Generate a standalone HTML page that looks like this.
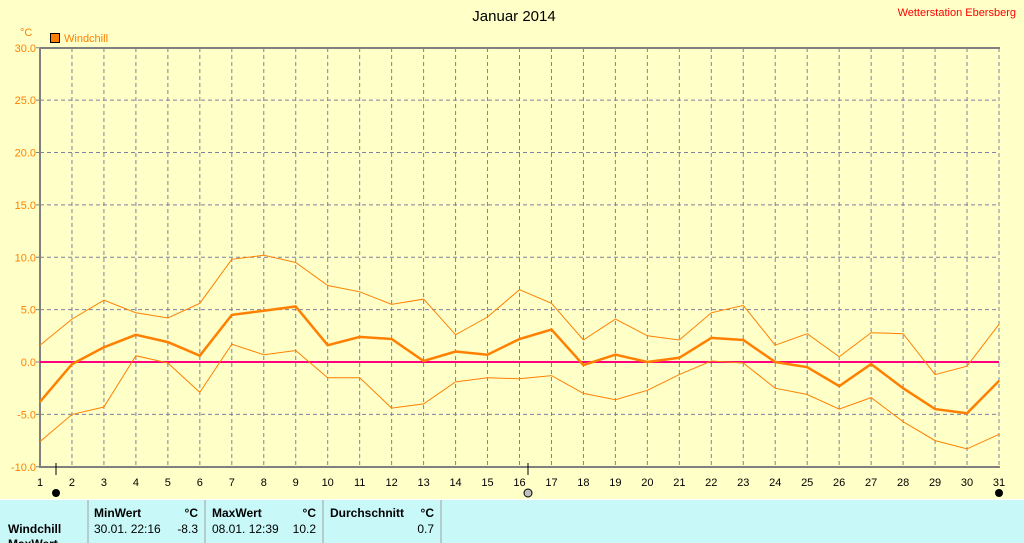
<!DOCTYPE html><html><head><style>body{margin:0;background:#ffffc8;}svg{display:block;font-family:"Liberation Sans",sans-serif}</style></head><body>
<svg width="1024" height="543" xmlns="http://www.w3.org/2000/svg">
<rect width="1024" height="543" fill="#ffffc8"/>
<text x="514" y="21" font-size="15" text-anchor="middle" fill="#000">Januar 2014</text>
<text x="1016" y="16" font-size="11" text-anchor="end" fill="#ff0000">Wetterstation Ebersberg</text>
<text x="20" y="36" font-size="11" fill="#ff8000">°C</text>
<rect x="50.5" y="33.5" width="9" height="9" fill="#ff8000" stroke="#000"/>
<text x="64" y="42" font-size="11" fill="#ff8000">Windchill</text>
<g id="grid" stroke="#8080a0" stroke-dasharray="4,3" stroke-width="1"></g>
<g id="lbl" font-size="11" fill="#000"></g>
<line x1="40" y1="48" x2="1000" y2="48" stroke="#808080" stroke-width="2"/>
<line x1="40" y1="48" x2="40" y2="468" stroke="#808080" stroke-width="2"/>
<line x1="40" y1="467" x2="1000" y2="467" stroke="#808080" stroke-width="2"/>
<line x1="40" y1="362" x2="999" y2="362" stroke="#ff0080" stroke-width="2"/>
<g id="series" fill="none" stroke="#ff8000"></g>
<line x1="56" y1="463" x2="56" y2="475" stroke="#000"/>
<line x1="528" y1="463" x2="528" y2="475" stroke="#000"/>
<circle cx="56" cy="493" r="4" fill="#000"/>
<circle cx="528" cy="493" r="4" fill="#c0c0c0" stroke="#000"/>
<circle cx="999" cy="493" r="4" fill="#000"/>
<rect x="0" y="499" width="1024" height="44" fill="#c8f8f8"/>
<line x1="0" y1="499.5" x2="1024" y2="499.5" stroke="#fff"/>
<g stroke="#a0a0a0"><line x1="88" y1="500" x2="88" y2="543"/><line x1="205" y1="500" x2="205" y2="543"/><line x1="323" y1="500" x2="323" y2="543"/><line x1="441" y1="500" x2="441" y2="543"/></g>
<g font-size="12" fill="#000">
<text x="8" y="533" font-weight="bold">Windchill</text>
<text x="8" y="548" font-weight="bold">MaxWert</text>
<text x="94" y="517" font-weight="bold">MinWert</text><text x="198" y="517" font-weight="bold" text-anchor="end">°C</text>
<text x="94" y="533">30.01.  22:16</text><text x="198" y="533" text-anchor="end">-8.3</text>
<text x="212" y="517" font-weight="bold">MaxWert</text><text x="316" y="517" font-weight="bold" text-anchor="end">°C</text>
<text x="212" y="533">08.01.  12:39</text><text x="316" y="533" text-anchor="end">10.2</text>
<text x="330" y="517" font-weight="bold">Durchschnitt</text><text x="434" y="517" font-weight="bold" text-anchor="end">°C</text>
<text x="434" y="533" text-anchor="end">0.7</text>
</g>
</svg>
<script>
const ns="http://www.w3.org/2000/svg";
const X=d=>40+(d-1)*959/30, Y=v=>362-v*10.475;
const g=document.getElementById('grid'),l=document.getElementById('lbl'),s=document.getElementById('series');
function el(p,t,a,txt){const e=document.createElementNS(ns,t);for(const k in a)e.setAttribute(k,a[k]);if(txt!==undefined)e.textContent=txt;p.appendChild(e);return e;}
for(let d=2;d<=31;d++){el(g,'line',{x1:X(d),y1:48,x2:X(d),y2:467});}
for(let d=1;d<=31;d++){el(l,'text',{x:X(d),y:486,'text-anchor':'middle'},d);}
for(let v=-10;v<=30;v+=5){const y=Y(v);if(v>-10&&v<30)el(g,'line',{x1:40,y1:y,x2:999,y2:y});
 el(l,'text',{x:36,y:y+4,'text-anchor':'end',fill:'#ff8000'},v.toFixed(1));el(l,'line',{x1:36,y1:y,x2:40,y2:y,stroke:'#808080'});}
const mean=[-3.8,-0.2,1.4,2.6,1.9,0.6,4.5,4.9,5.3,1.6,2.4,2.2,0.1,1.0,0.7,2.2,3.1,-0.3,0.7,0,0.4,2.3,2.1,0,-0.5,-2.3,-0.2,-2.5,-4.5,-4.9,-1.8];
const mx=[1.6,4.1,5.9,4.7,4.2,5.6,9.8,10.2,9.5,7.3,6.7,5.5,6.0,2.6,4.3,6.9,5.6,2.1,4.1,2.5,2.1,4.7,5.4,1.6,2.7,0.5,2.8,2.7,-1.2,-0.4,3.6];
const mn=[-7.6,-5.0,-4.3,0.6,-0.1,-2.9,1.7,0.7,1.1,-1.5,-1.5,-4.4,-4.0,-1.9,-1.5,-1.6,-1.3,-3.0,-3.6,-2.7,-1.2,0.1,-0.1,-2.5,-3.1,-4.5,-3.4,-5.7,-7.5,-8.3,-6.9];
const pts=a=>a.map((v,i)=>X(i+1).toFixed(1)+','+Y(v).toFixed(1)).join(' ');
el(s,'polyline',{points:pts(mx),'stroke-width':1});
el(s,'polyline',{points:pts(mn),'stroke-width':1});
el(s,'polyline',{points:pts(mean),'stroke-width':2.5});
</script>
</body></html>
